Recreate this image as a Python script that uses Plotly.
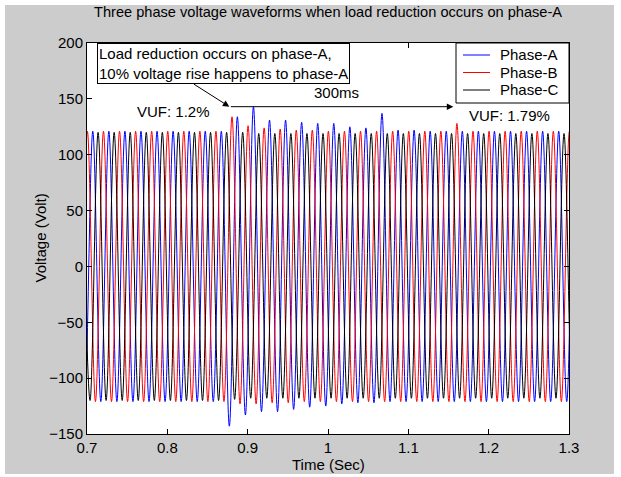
import plotly.graph_objects as go

# ---- data (extreme values of each half cycle) ----
HALF_PERIOD = 0.01  # s (50 Hz)

# Phase-A (blue): first positive peak time, peaks and troughs
a_start = 0.6872
a_peaks = [121, 121, 121, 121, 121, 121, 121, 121, 121, 121,
           134, 143, 131, 131, 129, 128, 128, 125, 124, 137,
           122, 122, 121, 121, 121, 121, 121, 121, 121, 121, 121, 121]
a_troughs = [-121, -121, -121, -121, -121, -121, -121, -121, -121, -143,
             -133, -130, -130, -128, -126, -125, -123, -122, -122, -121,
             -121, -121, -121, -121, -121, -121, -121, -121, -121, -121, -121, -121]

# Phase-B (red)
b_start = 0.6805
b_peaks = [121, 121, 121, 121, 121, 121, 121, 121, 121, 121,
           134, 126, 124, 123, 122, 122, 121, 121, 121, 121,
           121, 121, 121, 121, 128, 121, 121, 121, 121, 121, 121, 121]
b_troughs = [-121, -121, -121, -121, -121, -121, -121, -121, -121, -121,
             -123, -123, -122, -122, -121, -121, -121, -121, -121, -121,
             -121, -121, -121, -121, -121, -121, -121, -121, -121, -121, -121, -121]

# Phase-C (black)
c_start = 0.6938
c_peaks = [120, 120, 120, 120, 120, 120, 120, 120, 120, 120,
           120, 119, 119, 119, 119, 119, 119, 119, 119, 119,
           119, 119, 119, 119, 119, 119, 119, 119, 119, 119, 119, 119]
c_troughs = [-120, -120, -120, -120, -120, -120, -120, -120, -120, -119,
             -118, -118, -118, -118, -118, -118, -118, -118, -118, -118,
             -118, -118, -118, -118, -118, -118, -118, -118, -118, -118, -118, -118]

x_ticks = [0.7, 0.8, 0.9, 1.0, 1.1, 1.2, 1.3]
x_tick_text = ["0.7", "0.8", "0.9", "1", "1.1", "1.2", "1.3"]
y_ticks = [-150, -100, -50, 0, 50, 100, 150, 200]

series_names = ["Phase-A", "Phase-B", "Phase-C"]
series_colors = ["#0000ff", "#ff0000", "#000000"]


def interleave(peaks, troughs):
    out = []
    for p, t in zip(peaks, troughs):
        out += [p, t]
    return out


FONT = "Liberation Sans, Arial, sans-serif"
FS = 15

# plot area in pixels (for placing page furniture)
PL, PR, PT, PB = 87, 569, 43, 434


def px(xp):
    return (xp - PL) / (PR - PL)


def py(yp):
    return (PB - yp) / (PB - PT)


fig = go.Figure()
for name, start, pk, tr, col in zip(
        series_names, [a_start, b_start, c_start],
        [a_peaks, b_peaks, c_peaks], [a_troughs, b_troughs, c_troughs],
        series_colors):
    fig.add_trace(go.Scatter(
        x0=start, dx=HALF_PERIOD, y=interleave(pk, tr),
        mode="lines", name=name,
        line=dict(color=col, width=1, shape="spline"),
    ))

axis_common = dict(
    showgrid=False, zeroline=False, showline=True, linecolor="black",
    linewidth=1, mirror="ticks", ticks="inside", ticklen=5,
    tickcolor="black", tickfont=dict(family=FONT, size=FS, color="black"),
)

fig.update_layout(
    width=621, height=477,
    margin=dict(l=PL, r=621 - PR, t=PT, b=477 - PB),
    paper_bgcolor="#cccccc", plot_bgcolor="white",
    font=dict(family=FONT, size=FS, color="black"),
    showlegend=False,
    xaxis=dict(range=[0.7, 1.3], tickvals=x_ticks, ticktext=x_tick_text,
               **axis_common),
    yaxis=dict(range=[-150, 200], tickvals=y_ticks, **axis_common),
)

ann = []
shapes = []

# white page edges around the grey figure
for x0, x1, y0, y1 in [
    (-0.3, 1.3, py(5), 1.3),
    (-0.3, px(5), -0.3, 1.3),
    (px(614), 1.3, -0.3, 1.3),
    (-0.3, 1.3, -0.3, py(474)),
]:
    shapes.append(dict(type="rect", xref="paper", yref="paper", x0=x0, x1=x1,
                       y0=y0, y1=y1, fillcolor="white", line=dict(width=0),
                       layer="below"))

# legend box (drawn as page furniture)
shapes.append(dict(type="rect", xref="paper", yref="paper",
                   x0=px(456), x1=px(569), y0=py(103), y1=py(43),
                   fillcolor="white", line=dict(color="black", width=1),
                   layer="above"))
for i, (name, col) in enumerate(zip(series_names, series_colors)):
    yy = py(55 + i * 17.5)
    shapes.append(dict(type="line", xref="paper", yref="paper",
                       x0=px(463), x1=px(490), y0=yy, y1=yy,
                       line=dict(color=col, width=1), layer="above"))
    ann.append(dict(text=name, xref="paper", yref="paper", x=px(498), y=yy,
                    xanchor="left", yanchor="middle", showarrow=False,
                    font=dict(size=FS)))

# title
ann.append(dict(text="Three phase voltage waveforms when load reduction occurs on phase-A",
                xref="paper", yref="paper", x=0.5, y=py(12),
                xanchor="center", yanchor="middle", showarrow=False,
                font=dict(size=14.6)))
# axis titles
ann.append(dict(text="Time (Sec)", xref="paper", yref="paper", x=0.5,
                y=py(464), xanchor="center", yanchor="middle",
                showarrow=False, font=dict(size=FS)))
ann.append(dict(text="Voltage (Volt)", xref="paper", yref="paper",
                x=px(40), y=0.5, textangle=-90, xanchor="center",
                yanchor="middle", showarrow=False, font=dict(size=FS)))
# text box
ann.append(dict(text="Load reduction occurs on phase-A,<br>10% voltage rise happens to phase-A",
                xref="paper", yref="paper", x=px(97), y=1.0,
                xanchor="left", yanchor="top", align="left", showarrow=False,
                bgcolor="white", bordercolor="black", borderwidth=1, borderpad=1,
                font=dict(size=FS)))
# arrow from box
ann.append(dict(text="", x=0.8772, y=143, ax=0.8313, ay=164, xref="x", yref="y",
                axref="x", ayref="y", showarrow=True, arrowhead=2, arrowsize=1.3,
                arrowwidth=1, arrowcolor="black"))
# 300 ms arrow
ann.append(dict(text="", x=1.156, y=143, ax=0.8772, ay=143, xref="x", yref="y",
                axref="x", ayref="y", showarrow=True, arrowhead=2, arrowsize=1.3,
                arrowwidth=1, arrowcolor="black"))
ann.append(dict(text="300ms", x=1.01, y=156, xref="x", yref="y", showarrow=False,
                font=dict(size=FS)))
ann.append(dict(text="VUF: 1.2%", x=0.8078, y=139, xref="x", yref="y",
                showarrow=False, font=dict(size=FS)))
ann.append(dict(text="VUF: 1.79%", x=1.2254, y=135, xref="x", yref="y",
                showarrow=False, font=dict(size=FS)))

fig.update_layout(annotations=ann, shapes=shapes)

fig.write_html("out.html", config={"displayModeBar": False},
               post_script="document.body.style.margin='0px';")
